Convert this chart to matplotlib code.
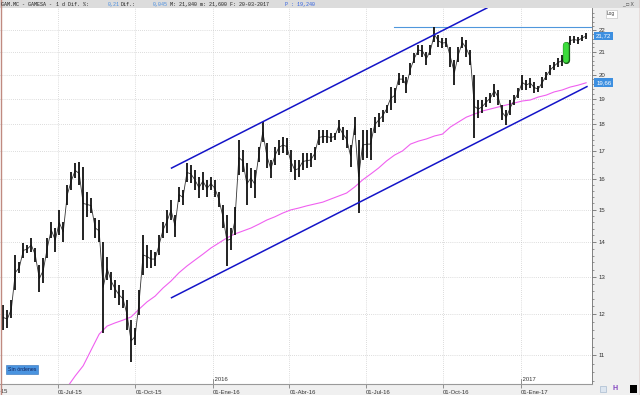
import matplotlib
matplotlib.use('Agg')
import matplotlib.pyplot as plt
from matplotlib.patches import Rectangle
from matplotlib.ticker import FixedLocator, NullFormatter
import numpy as np
import pandas as pd

# GAM.MC daily sessions, grouped in blocks of ~3 sessions: high / low (euros)
bar_high = [12.24, 12.11, 12.37, 13.61, 13.41, 13.97, 13.91, 14.12, 13.82, 13.33,
            13.53, 14.12, 14.61, 14.42, 14.99, 14.61, 15.81, 16.25, 16.57, 16.60,
            16.43, 15.57, 15.37, 14.74, 14.67, 14.00, 13.55, 13.13, 12.91, 12.77,
            12.64, 12.37, 11.85, 11.65, 12.64, 14.21, 13.91, 13.76, 13.70, 14.21,
            14.61, 14.99, 15.31, 14.83, 15.74, 15.64, 16.57, 16.50, 16.32, 16.08,
            16.25, 15.98, 16.08, 15.98, 15.57, 15.15, 14.83, 14.42, 15.09, 17.40,
            17.03, 16.57, 16.39, 16.32, 17.14, 18.08, 17.29, 16.67, 17.14, 17.40,
            17.51, 17.48, 17.03, 16.67, 16.67, 16.92, 16.92, 16.92, 17.14, 17.77,
            17.77, 17.77, 17.66, 17.66, 18.16, 17.89, 17.77, 17.22, 18.27, 17.40,
            17.77, 17.77, 17.85, 18.27, 18.43, 18.55, 18.75, 19.48, 19.44, 20.07,
            19.99, 19.90, 20.51, 20.95, 21.31, 21.31, 20.99, 21.31, 22.14, 21.77,
            21.63, 21.63, 21.22, 20.64, 21.22, 21.68, 21.54, 21.08, 19.99, 18.95,
            18.95, 19.07, 19.23, 19.60, 19.36, 18.75, 18.55, 18.95, 19.15, 19.44,
            19.99, 19.77, 19.86, 19.69, 19.52, 19.90, 20.12, 20.42, 20.55, 20.73,
            20.86, 21.31, 21.72, 21.72, 21.68, 21.77, 21.84]
bar_low = [11.60, 11.65, 11.90, 12.64, 13.11, 13.53, 13.67, 13.70, 13.41, 12.58,
           12.83, 13.53, 14.12, 13.70, 14.21, 14.00, 15.15, 15.64, 16.05, 15.81,
           14.06, 14.77, 14.89, 14.12, 14.00, 11.53, 12.91, 12.64, 12.42, 12.24,
           12.16, 11.60, 10.84, 11.24, 11.98, 13.05, 13.24, 13.24, 13.30, 13.61,
           14.12, 14.27, 14.67, 14.15, 15.24, 15.15, 15.91, 15.88, 15.64, 15.37,
           15.64, 15.41, 15.64, 15.41, 15.09, 14.42, 13.30, 13.76, 14.21, 16.15,
           16.25, 15.15, 15.71, 15.37, 16.60, 17.33, 16.39, 16.05, 16.50, 16.85,
           16.92, 16.85, 16.25, 15.98, 16.08, 16.32, 16.39, 16.43, 16.67, 17.22,
           17.29, 17.29, 17.33, 17.40, 17.66, 17.40, 17.10, 16.43, 17.59, 14.89,
           16.67, 16.74, 16.67, 17.66, 17.89, 18.08, 18.43, 18.55, 18.83, 19.56,
           19.64, 19.23, 19.99, 20.51, 20.86, 20.77, 20.42, 20.86, 21.45, 21.22,
           21.17, 21.22, 20.33, 19.56, 20.55, 21.17, 20.77, 20.42, 17.48, 18.23,
           18.43, 18.67, 18.83, 19.07, 18.75, 18.16, 17.97, 18.35, 18.75, 19.03,
           19.36, 19.36, 19.44, 19.23, 19.28, 19.44, 19.77, 19.99, 20.20, 20.33,
           20.38, 20.64, 21.31, 21.40, 21.36, 21.50, 21.60]
first_day = '2015-04-27'
last_day = '2017-03-20'
highlight_bar = 141

# moving average, one value every second block (ends on the last block)
ma_values = [10.27, 10.52, 10.75, 11.12, 11.50, 11.70, 11.78, 11.85, 11.93, 12.13,
             12.32, 12.47, 12.69, 12.88, 13.11, 13.30, 13.47, 13.64, 13.82, 13.97,
             14.12, 14.24, 14.33, 14.42, 14.54, 14.67, 14.77, 14.89, 14.99, 15.05,
             15.12, 15.18, 15.24, 15.34, 15.44, 15.54, 15.74, 15.98, 16.18, 16.39,
             16.64, 16.85, 17.00, 17.25, 17.36, 17.44, 17.55, 17.62, 17.89, 18.08,
             18.27, 18.39, 18.51, 18.59, 18.67, 18.75, 18.83, 18.91, 18.95, 19.07,
             19.15, 19.28, 19.36, 19.48, 19.56, 19.66]
last_close = 21.72
last_ma = 19.66

# trend channel and resistance drawn on the chart
upper_dates = ['2015-11-13', '2016-11-22']
upper_prices = [16.39, 23.06]
lower_dates = ['2015-11-13', '2017-03-21']
lower_prices = [12.43, 19.50]
resistance = 22.14
resistance_dates = ['2016-08-04', '2017-03-27']

quarter_dates = ['2015-07-01', '2015-10-01', '2016-01-01', '2016-04-01',
                 '2016-07-01', '2016-10-01', '2017-01-01']
quarter_labels = ['01-Jul-15', '01-Oct-15', '01-Ene-16', '01-Abr-16',
                  '01-Jul-16', '01-Oct-16', '01-Ene-17']
year_marks = ['2016-01-01', '2017-01-01']
price_ticks = list(range(11, 23))

plt.rcParams['font.family'] = ['Liberation Sans', 'DejaVu Sans']

W, H = 640, 395
fig = plt.figure(figsize=(6.4, 3.95), dpi=100, facecolor='#f0f0f0')
ax = fig.add_axes([0, 11 / H, 592 / W, (384 - 8) / H])
ax.set_facecolor('white')

bar_dates = pd.date_range(first_day, last_day, periods=len(bar_high))
ma_dates = bar_dates[-(2 * len(ma_values) - 1)::2]

# price bars + thin path through the middle of each block
mid = np.sqrt(np.array(bar_high) * np.array(bar_low))
ax.plot(bar_dates, mid, color='#333333', lw=0.6, zorder=3)
ax.vlines(bar_dates, bar_low, bar_high, color='#111111', lw=1.3, zorder=3)
# highlighted session (green)
hd = bar_dates[highlight_bar]
ax.plot([hd, hd], [bar_low[highlight_bar], bar_high[highlight_bar]], color='#1a5e1a',
        lw=5.2, solid_capstyle='round', zorder=4)
ax.plot([hd, hd], [bar_low[highlight_bar], bar_high[highlight_bar]], color='#3ddc3d',
        lw=4.0, solid_capstyle='round', zorder=5)

# moving average
ax.plot(ma_dates, ma_values, color='#f060f0', lw=0.8, zorder=2)

# channel lines and resistance
ax.plot(pd.to_datetime(upper_dates), upper_prices, color='#1414c8', lw=1.1, zorder=4)
ax.plot(pd.to_datetime(lower_dates), lower_prices, color='#1414c8', lw=1.1, zorder=4)
ax.plot(pd.to_datetime(resistance_dates), [resistance, resistance], color='#4f97dc',
        lw=0.8, zorder=2)

ax.set_yscale('log')
ax.set_ylim(10.34, 23.06)
ax.set_xlim(pd.Timestamp('2015-04-23'), pd.Timestamp('2017-03-27'))

# right price axis
ax.yaxis.tick_right()
ax.set_yticks(price_ticks, labels=[str(p) for p in price_ticks])
ax.yaxis.set_minor_locator(FixedLocator(np.arange(10.4, 23.0, 0.2)))
ax.yaxis.set_minor_formatter(NullFormatter())
ax.tick_params(axis='y', which='major', direction='out', length=3, width=0.6,
               color='#707070', labelsize=4.4, labelcolor='#333333', pad=1.5)
ax.tick_params(axis='y', which='minor', direction='out', length=1.5, width=0.5,
               color='#707070')

# bottom date axis
ax.set_xticks(pd.to_datetime(quarter_dates), labels=quarter_labels)
ax.tick_params(axis='x', direction='out', length=3, width=0.6, color='#808080',
               labelsize=4.2, labelcolor='#333333', pad=1)
for lab in ax.get_xticklabels():
    lab.set_ha('left')
ax.text(pd.Timestamp('2015-04-01'), -0.012, '01-Abr-15', transform=ax.get_xaxis_transform(),
        ha='left', va='top', fontsize=4.2, color='#333333', clip_on=False)
for ym in year_marks:
    d = pd.Timestamp(ym)
    ax.plot([d, d], [0, 0.012], transform=ax.get_xaxis_transform(), color='#808080',
            lw=0.6, clip_on=False)
    ax.text(d, 0.006, ' ' + ym[:4], transform=ax.get_xaxis_transform(), ha='left',
            va='bottom', fontsize=4.2, color='#333333')

ax.grid(True, which='major', ls=(0, (1, 2)), color='#bdbdbd', lw=0.5)
for side in ['top', 'left']:
    ax.spines[side].set_visible(False)
ax.spines['bottom'].set_color('#9a9a9a')
ax.spines['bottom'].set_linewidth(0.8)
ax.spines['right'].set_color('#707070')
ax.spines['right'].set_linewidth(0.6)

# last value boxes on the price axis
ytr = ax.get_yaxis_transform()
for val in [last_close, last_ma]:
    ax.text(1.007, val, f'{val:.2f}'.replace('.', ','), transform=ytr, ha='left',
            va='center', fontsize=4.4, color='white', clip_on=False, zorder=6,
            bbox=dict(boxstyle='square,pad=0.3', fc='#3d8fe0', ec='none'))

ax.text(0.013, 0.035, 'Sin órdenes', transform=ax.transAxes, fontsize=3.8,
        color='#10205a', bbox=dict(boxstyle='square,pad=0.35', fc='#4a94e0', ec='#2f6fb8', lw=0.4))

# header strip
fig.patches.append(Rectangle((0, 1 - 8 / H), 1, 8 / H, transform=fig.transFigure,
                             fc='#dcdcdc', ec='none', zorder=0))
header = [(1, 'GAM.MC - GAMESA -', '#222222'), (56, '1 d Dif. %:', '#222222'),
          (108, '0,21', '#4a8ee0'), (121, 'Dif.:', '#222222'), (153, '0,045', '#4a8ee0'),
          (170, 'M: 21,840 m: 21,600 F: 20-03-2017', '#222222'),
          (285, 'P : 19,240', '#3060e0')]
for px, txt, col in header:
    fig.text(px / W, 1 - 4.5 / H, txt, fontsize=3.6, family='Liberation Mono',
             color=col, va='center', ha='left')
fig.text(634 / W, 1 - 4 / H, '_ □ X', fontsize=3.6, ha='right', va='center', color='#444444')
fig.text(607 / W, 1 - 14 / H, 'Log', fontsize=3.4, ha='left', va='center', color='#333333',
         bbox=dict(boxstyle='square,pad=0.3', fc='white', ec='#bbbbbb', lw=0.4))

# small icons bottom right
fig.patches.append(Rectangle((630 / W, 2 / H), 7 / W, 8 / H, transform=fig.transFigure,
                             fc='black', ec='none'))
fig.text(615 / W, 6 / H, 'H', fontsize=5, color='#8040c0', ha='center', va='center',
         fontweight='bold')
fig.patches.append(Rectangle((600 / W, 3 / H), 6 / W, 6 / H, transform=fig.transFigure,
                             fc='#dde6f0', ec='#9ab0c8', lw=0.4))

# thin frame edges
fig.lines.append(plt.Line2D([0.5 / W, 0.5 / W], [0, 1], transform=fig.transFigure,
                            color='#c08a80', lw=1.0))
fig.lines.append(plt.Line2D([639.5 / W, 639.5 / W], [0, 1], transform=fig.transFigure,
                            color='#c08a80', lw=1.0))

fig.savefig('out.png', dpi=100, facecolor=fig.get_facecolor())
